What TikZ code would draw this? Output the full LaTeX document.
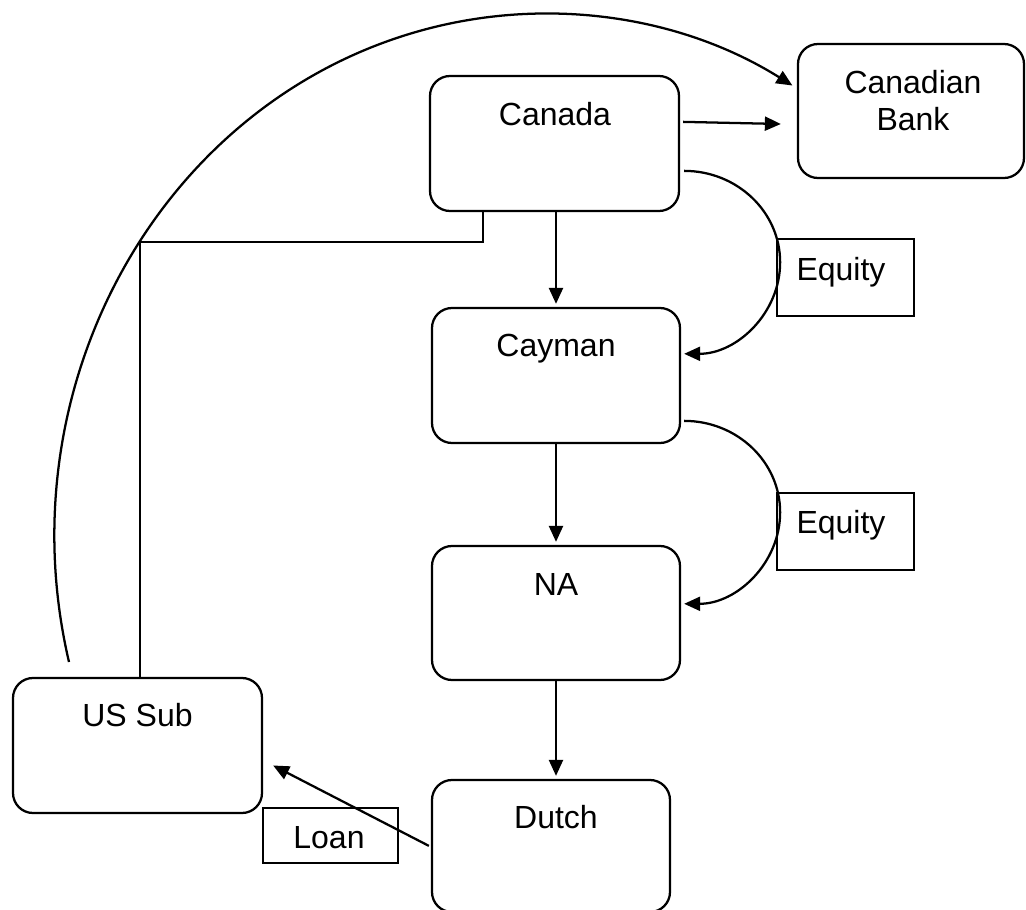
\documentclass[tikz,border=0pt]{standalone}
\usepackage{fontspec}
\setmainfont{Liberation Sans}
\usetikzlibrary{arrows.meta,calc}
\begin{document}
\begin{tikzpicture}[x=0.75pt,y=0.75pt,line width=1.7pt,
  entity/.style={draw, rounded corners=15pt, inner sep=0pt},
  tag/.style={draw, inner sep=0pt},
  txt/.style={anchor=base, inner sep=0pt, font=\fontsize{24}{28.8}\selectfont},
  conn/.style={-{Triangle[length=12pt,width=10.5pt]}}]
\useasboundingbox (0,0) rectangle (1026,-910);
\clip (0,0) rectangle (1026,-910);

% entities
\node[entity, minimum width=186.75pt, minimum height=101.25pt] (canada) at (554.5,-143.5) {};
\node[entity, minimum width=169.5pt, minimum height=100.5pt] (bank) at (911,-111) {};
\node[entity, minimum width=186pt, minimum height=101.25pt] (cayman) at (556,-375.5) {};
\node[entity, minimum width=186pt, minimum height=100.5pt] (na) at (556,-613) {};
\node[entity, minimum width=178.5pt, minimum height=99pt] (dutch) at (551,-846) {};
\node[entity, minimum width=186.75pt, minimum height=101.25pt] (ussub) at (137.5,-745.5) {};

% relationship tags
\node[tag, minimum width=102.75pt, minimum height=57.75pt] (eq1) at (845.5,-277.5) {};
\node[tag, minimum width=102.75pt, minimum height=57.75pt] (eq2) at (845.5,-531.5) {};
\node[tag, minimum width=101.25pt, minimum height=41.25pt] (loan) at (330.5,-835.5) {};

% captions
\node[txt] (canadaT) at (555,-125) {Canada};
\node[txt] (bankT1) at (913,-93) {Canadian};
\node[txt] (bankT2) at (913,-130) {Bank};
\node[txt] (caymanT) at (556,-356) {Cayman};
\node[txt] (naT) at (556,-595) {NA};
\node[txt] (dutchT) at (556,-828) {Dutch};
\node[txt] (ussubT) at (137.5,-726) {US Sub};
\node[txt] (eq1T) at (841,-280) {Equity};
\node[txt] (eq2T) at (841,-533) {Equity};
\node[txt] (loanT) at (329,-848) {Loan};

% ownership chain
\draw[conn] ($(canada.south)+(1.5,0)$) -- ($(cayman.north)+(0,3)$);
\draw[conn] (cayman.south) -- ($(na.north)+(0,3)$);
\draw[conn] (na.south) -- ($(na.south |- dutch.north)+(0,3)$);
\draw[conn] ($(canada.north east)+(3,-47)$) -- ($(bank.west)+(-16,-13)$);

% equity flows
\draw[conn] ($(canada.north east)+(4,-96)$) arc[start angle=90, end angle=-90, x radius=72pt, y radius=68.6pt];
\draw[conn] ($(cayman.north east)+(3,-114)$) arc[start angle=90, end angle=-90, x radius=72pt, y radius=68.6pt];

% US Sub links
\coordinate (arcfoot) at (69,-662);
\draw[conn] (arcfoot) arc[start angle=194, end angle=59.6, x radius=367.5pt, y radius=391.5pt];
\coordinate (jn) at (140,-242);
\draw ($(canada.south west)+(54,0)$) |- (jn) -- (jn |- ussub.north);
\draw[conn] ($(dutch.north west)+(-2,-67)$) -- ($(ussub.east)+(10,-20)$);
\end{tikzpicture}
\end{document}
